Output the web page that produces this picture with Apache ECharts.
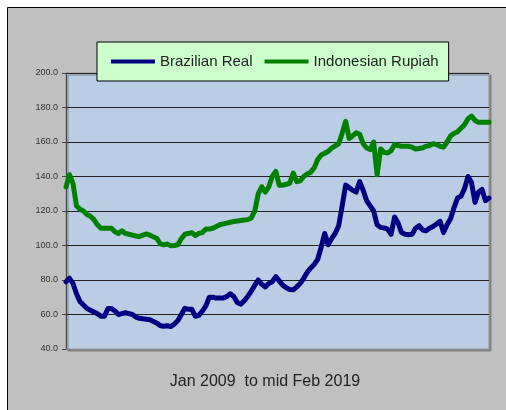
<!DOCTYPE html>
<html>
<head>
<meta charset="utf-8">
<script src="https://cdn.jsdelivr.net/npm/echarts@6/dist/echarts.min.js"></script>
<style>
  html, body { margin: 0; padding: 0; background: #fff; }
  #chart { width: 506px; height: 410px; }
</style>
</head>
<body>
<div id="chart"></div>
<script>
// months Jan 2009 .. Feb 2019
var months = [];
for (var y = 2009; y <= 2019; y++) {
    for (var m = 1; m <= 12; m++) {
        if (y === 2019 && m > 2) break;
        months.push(y + '-' + (m < 10 ? '0' + m : m));
    }
}

var brazilianReal = [
    79, 81, 78, 72, 67.5, 65.5, 63.5, 62.5, 61.5, 60.5,
    59, 59, 63.5, 63.5, 62, 60, 60.5, 61, 60.5, 60,
    58.5, 57.8, 57.5, 57.3, 57, 56, 55, 53.5, 53.2, 53.5,
    53, 54.5, 56.5, 60, 63.6, 63, 63, 59, 59.5, 62,
    65, 70, 70, 69.5, 69.5, 69.5, 70.5, 72, 70.5, 67,
    66, 68, 70.5, 73.5, 77, 80, 77.5, 76, 78, 79,
    82, 79.5, 77, 75.5, 74.5, 74.3, 76, 78, 81, 84.5,
    87, 89, 92, 99, 107, 100.5, 104, 107, 111.5, 123,
    135, 133.5, 132, 131, 137, 132, 126, 123, 120, 112,
    110.5, 110.2, 109.5, 106.5, 116.5, 113, 107.5, 106.5, 106.2, 106.5,
    110, 111.5, 109, 108.5, 110, 111, 112.5, 114, 107.5, 112,
    115.5, 122, 127.5, 128.5, 133, 140, 136.5, 125, 131, 132.5,
    126, 127.5
];

var indonesianRupiah = [
    134, 141, 136, 123, 121, 120, 118, 117, 115, 112,
    110, 110, 110, 110, 108, 107, 108.5, 107, 106.5, 106,
    105.5, 105.2, 106, 106.7, 106, 105, 104, 101, 100.4, 100.8,
    99.8, 100, 100.4, 104, 106.5, 107, 107.4, 105.8, 107, 107.5,
    109.5, 109.5, 110, 111, 112, 112.5, 113, 113.5, 113.9, 114.2,
    114.5, 114.8, 115, 116, 120, 130, 134, 131, 134, 140,
    143, 135, 135, 135.5, 136.2, 142, 137, 137.5, 140, 141.5,
    142.5, 145, 149.8, 152.5, 153.5, 154.6, 156.5, 157.8, 159, 165,
    172, 162, 163.5, 165.3, 164.5, 159, 156.5, 155.6, 160, 141,
    156, 154, 153.6, 155, 158.5, 158, 157.5, 157.5, 157.5, 157,
    156, 156.2, 156.6, 157.5, 158, 159, 158.5, 157.5, 157, 160,
    163.5, 165, 166, 168, 170, 173.5, 175, 172.5, 171.4, 171.4,
    171.4, 171.4
];

var seriesNames = ['Brazilian Real', 'Indonesian Rupiah'];
var footerText = 'Jan 2009  to mid Feb 2019';

var myChart = echarts.init(document.getElementById('chart'), null, { renderer: 'canvas' });

var option = {
    animation: false,
    backgroundColor: '#ffffff',
    graphic: [
        {
            type: 'rect',
            z: -10,
            silent: true,
            shape: { x: 7.5, y: 7.5, width: 510, height: 410 },
            style: { fill: '#c0c0c0', stroke: '#000', lineWidth: 1 }
        },
        {
            type: 'text',
            x: 265,
            y: 382,
            style: {
                text: footerText,
                fill: '#222',
                font: '16px "Liberation Sans", Arial, sans-serif',
                align: 'center',
                verticalAlign: 'middle'
            }
        }
    ],
    legend: {
        data: seriesNames,
        left: 97,
        top: 42,
        padding: [12, 10, 12, 14],
        itemGap: 12,
        itemWidth: 44,
        itemHeight: 4,
        icon: 'rect',
        backgroundColor: '#ccffcc',
        borderColor: '#000',
        borderWidth: 1,
        borderRadius: 0,
        textStyle: {
            fontFamily: '"Liberation Sans", Arial, sans-serif',
            fontSize: 15,
            color: '#222'
        }
    },
    grid: {
        left: 66,
        right: 17,
        top: 73,
        bottom: 61,
        outerBoundsMode: 'none',
        show: true,
        backgroundColor: '#b9cde5',
        borderColor: '#999',
        borderWidth: 1,
        shadowColor: '#808080',
        shadowOffsetX: 2,
        shadowOffsetY: 2,
        shadowBlur: 0
    },
    xAxis: {
        type: 'category',
        data: months,
        boundaryGap: false,
        axisLabel: { show: false },
        axisTick: { show: false },
        axisLine: { show: true, lineStyle: { color: '#888' } },
        splitLine: { show: false }
    },
    yAxis: {
        type: 'value',
        min: 40,
        max: 200,
        interval: 20,
        axisLine: { show: true, lineStyle: { color: '#444', width: 1 } },
        axisTick: { show: true, inside: false, length: 4, lineStyle: { color: '#444' } },
        axisLabel: {
            margin: 8,
            fontFamily: '"Liberation Sans", Arial, sans-serif',
            fontSize: 9,
            color: '#333',
            formatter: function (v) { return v.toFixed(1); }
        },
        splitLine: { show: true, lineStyle: { color: '#222', width: 1 } }
    },
    series: [
        {
            name: seriesNames[0],
            type: 'line',
            data: brazilianReal,
            showSymbol: false,
            symbol: 'none',
            color: '#000080',
            lineStyle: { color: '#000080', width: 5, join: 'round', cap: 'round' }
        },
        {
            name: seriesNames[1],
            type: 'line',
            data: indonesianRupiah,
            showSymbol: false,
            symbol: 'none',
            color: '#008000',
            lineStyle: { color: '#008000', width: 5, join: 'round', cap: 'round' }
        }
    ]
};

myChart.setOption(option);
</script>
</body>
</html>
